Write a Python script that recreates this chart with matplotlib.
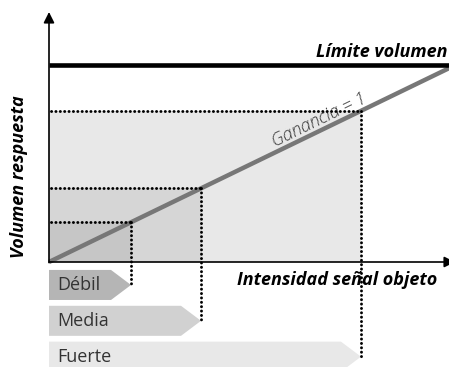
import matplotlib
matplotlib.use("Agg")
import matplotlib.pyplot as plt
from matplotlib.patches import Rectangle, Polygon

# ---- data ----
categories = ["Débil", "Media", "Fuerte"]
levels = [20.5, 38.0, 78.0]          # input intensity for each category
gain = 1.0                            # output = gain * input
limit = 101.5                         # volume limit
x_max = 100.0
y_max = 129.0
region_colors = ["#c6c6c6", "#d6d6d6", "#e8e8e8"]
banner_colors = ["#b5b5b5", "#d1d1d1", "#e8e8e8"]

plt.rcParams["font.family"] = ["Open Sans", "DejaVu Sans"]

fig = plt.figure(figsize=(4.49, 3.67), dpi=100)
ax = fig.add_axes([49 / 449, 105 / 367, 400 / 449, 250 / 367])
ax.set_xlim(0, x_max)
ax.set_ylim(0, y_max)
ax.axis("off")

dot_style = dict(color="black", lw=2.1, ls=(0, (0.05, 1.45)), dash_capstyle="round",
                 zorder=4, clip_on=False)

# shaded regions (largest first)
for lv, col in sorted(zip(levels, region_colors), reverse=True):
    ax.add_patch(Rectangle((0, 0), lv, gain * lv, facecolor=col, edgecolor="none", zorder=1))

# banners below the x axis
band_h = 15.5
gap = 3.0
top0 = -4.1
tip_depth = 5.0
for i, (cat, lv, col) in enumerate(zip(categories, levels, banner_colors)):
    top = top0 - i * (band_h + gap)
    bot = top - band_h
    mid = (top + bot) / 2
    poly = Polygon([(0, top), (lv - tip_depth, top), (lv, mid), (lv - tip_depth, bot), (0, bot)],
                   closed=True, facecolor=col, edgecolor="none", clip_on=False, zorder=1)
    ax.add_patch(poly)
    ax.text(2.0, mid, cat, fontsize=13, color="#333333", ha="left", va="center", zorder=3, clip_on=False)
    # dotted guides
    ax.plot([0.6, lv], [gain * lv, gain * lv], **dot_style)
    ax.plot([lv, lv], [gain * lv, mid], **dot_style)

# gain line
ax.plot([0, x_max], [0, gain * x_max], color="#777777", lw=3.2, solid_capstyle="butt", zorder=3, clip_on=False)

# limit line
ax.plot([0, x_max], [limit, limit], color="black", lw=3.3, solid_capstyle="butt", zorder=3, clip_on=False)

# axes arrows
ax.annotate("", xy=(0, y_max), xytext=(0, -0.3),
            arrowprops=dict(arrowstyle="-|>", color="black", lw=1.2, mutation_scale=16,
                            shrinkA=0, shrinkB=0), annotation_clip=False, zorder=5)
ax.annotate("", xy=(x_max + 1.5, 0), xytext=(0, 0),
            arrowprops=dict(arrowstyle="-|>", color="black", lw=1.2, mutation_scale=16,
                            shrinkA=0, shrinkB=0), annotation_clip=False, zorder=5)

# texts
ax.text(99.5, 105.6, "Límite volumen", fontsize=13, fontweight="bold", fontstyle="italic",
        ha="right", va="baseline", color="black", clip_on=False)
ax.text(97.0, -11.9, "Intensidad señal objeto", fontsize=13, fontweight="bold", fontstyle="italic",
        ha="right", va="baseline", color="black", clip_on=False)
ax.text(-7.5, 43.8, "Volumen respuesta", fontsize=13, fontweight="bold", fontstyle="italic",
        rotation=90, ha="center", va="center", color="black", clip_on=False)
ax.text(67.6, 73.4, "Ganancia = 1", fontsize=13, fontweight="light", fontstyle="italic",
        rotation=45, transform_rotates_text=True, rotation_mode="anchor",
        ha="center", va="center", color="#3a3a3a", clip_on=False)

fig.savefig("out.png", dpi=100)
